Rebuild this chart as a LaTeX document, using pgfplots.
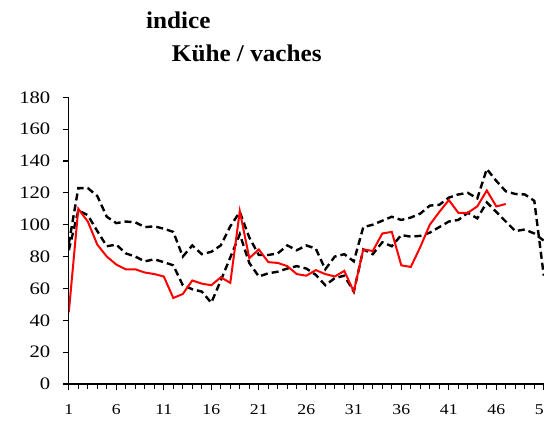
\documentclass[border=0pt]{standalone}
\usepackage{fontspec}
\setmainfont{Liberation Serif}[FakeStretch=1.18]
\newfontfamily\titlefont{Liberation Serif}[FakeStretch=1.05]
\usepackage{pgfplots}
\pgfplotsset{compat=1.18}
\usepackage{pgfplotstable}

\pgfplotstableread{
w v
1 88
2 123
3 123
4 118
5 105
6 101
7 102
8 101.5
9 98.5
10 99
11 97.5
12 95.5
13 80
14 87
15 81.5
16 83
17 87
18 99
19 108
20 92
21 81
22 81
23 82
24 87
25 84
26 87
27 85
28 72
29 80
30 81.5
31 77
32 98.5
33 100
34 102.5
35 105
36 103
37 104.5
38 107
39 112
40 112.5
41 117
42 119
43 120
44 116.5
45 135
46 127.5
47 121
48 119.3
49 119
50 115
51 68
}\uptab

\pgfplotstableread{
w v
1 84
2 109
3 106
4 96
5 86.5
6 87.5
7 82
8 80
9 77
10 78.3
11 76.5
12 74.5
13 62
14 59.5
15 58
16 51
17 65
18 79.5
19 94
20 76
21 67.5
22 69.5
23 70.5
24 72.5
25 74
26 72.5
27 68.5
28 62
29 66.5
30 68
31 58
32 84.5
33 81.5
34 89
35 86.5
36 93.5
37 92.5
38 93
39 95
40 98.5
41 102
42 103
43 107.5
44 104
45 114
46 108
47 102
48 96
49 97
50 94.5
51 90
}\lowtab

\pgfplotstableread{
w v
1 45
2 110
3 102
4 87.5
5 80
6 75
7 72
8 72
9 70
10 69
11 67.5
12 54
13 56.5
14 65
15 63
16 62
17 67
18 63.5
19 108.5
20 79
21 84.5
22 76.5
23 76
24 74
25 69
26 68
27 71.5
28 69
29 67.5
30 71
31 58
32 84.5
33 83.5
34 94.5
35 95.5
36 74.5
37 73.5
38 86
39 100
40 108
41 115.5
42 107.5
43 107.5
44 111.5
45 121.5
46 111.5
47 113
}\cowtab

\begin{document}
\begin{tikzpicture}
\begin{axis}[
  at={(68.8pt,44pt)}, anchor=south west,
  scale only axis, width=484.5pt, height=286.7pt,
  xmin=1, xmax=52, ymin=0, ymax=180,
  axis x line=bottom, axis y line=left,
  axis line style={-, line width=1.4pt, black},
  xtick={1,6,...,51}, minor xtick={1,...,52},
  ytick={0,20,...,180},
  tick align=outside, major tick length=6pt, minor tick length=5pt,
  every tick/.style={black, line width=1.2pt},
  minor tick style={black, line width=1.2pt},
  x tick label style={font=\fontsize{15}{15}\selectfont, yshift=-11pt},
  y tick label style={font=\fontsize{17.5}{17.5}\selectfont, xshift=-9pt},
  /pgf/number format/assume math mode=true,
]
\addplot[black, line width=2.4pt, dash pattern=on 7pt off 4pt] table[x=w,y=v] {\uptab};
\addplot[black, line width=2.4pt, dash pattern=on 7pt off 4pt] table[x=w,y=v] {\lowtab};
\addplot[red, line width=2pt] table[x=w,y=v] {\cowtab};
\end{axis}
\node[anchor=base west, font=\titlefont\fontsize{24}{24}\selectfont\bfseries, inner sep=0pt] at (146pt,399.7pt) {indice};
\node[anchor=base west, font=\titlefont\fontsize{24}{24}\selectfont\bfseries, inner sep=0pt] at (171.7pt,366.3pt) {Kühe / vaches};
\pgfresetboundingbox
\path[use as bounding box] (0,0) rectangle (544pt,428pt);
\end{tikzpicture}
\end{document}
